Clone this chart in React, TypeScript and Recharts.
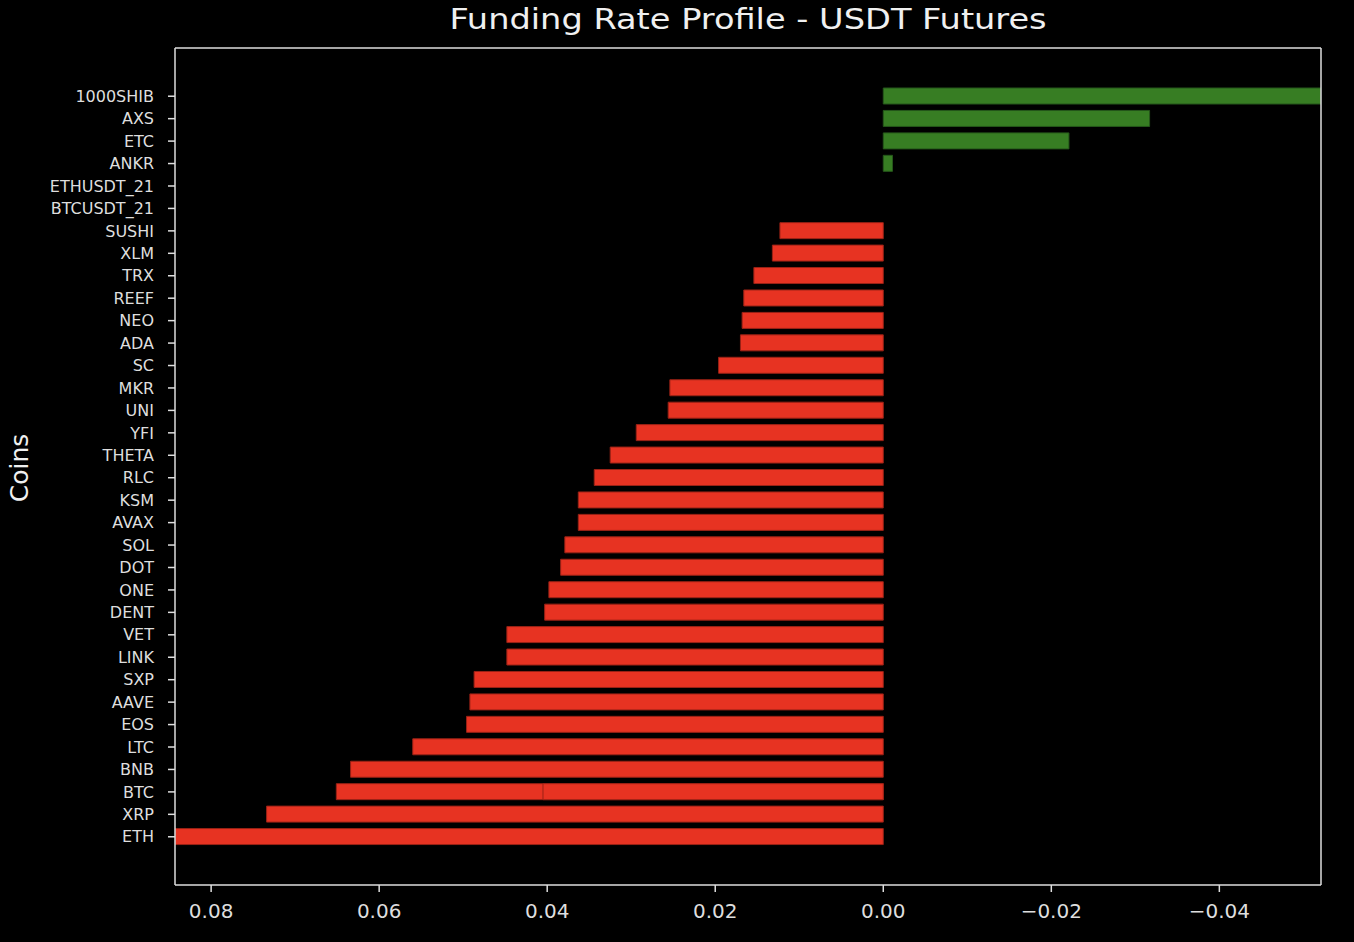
import React from 'react';
import { BarChart, Bar, XAxis, YAxis, Cell } from 'recharts';

const coins = [
  '1000SHIB', 'AXS', 'ETC', 'ANKR', 'ETHUSDT_21', 'BTCUSDT_21', 'SUSHI', 'XLM', 'TRX', 'REEF',
  'NEO', 'ADA', 'SC', 'MKR', 'UNI', 'YFI', 'THETA', 'RLC', 'KSM', 'AVAX',
  'SOL', 'DOT', 'ONE', 'DENT', 'VET', 'LINK', 'SXP', 'AAVE', 'EOS', 'LTC',
  'BNB', 'BTC', 'XRP', 'ETH',
];

const rates = [
  -0.0521, -0.0317, -0.0221, -0.0011, 0, 0, 0.0123, 0.0132, 0.0154, 0.0166,
  0.0168, 0.017, 0.0196, 0.0254, 0.0256, 0.0294, 0.0325, 0.0344, 0.0363, 0.0363,
  0.0379, 0.0384, 0.0398, 0.0403, 0.0448, 0.0448, 0.0487, 0.0492, 0.0496, 0.056,
  0.0634, 0.0651, 0.0734, 0.0843,
];

// second BTC row in the source data, drawn over the first one
const duplicateCoin = 'BTC';
const duplicateRate = 0.0405;

const xTicks = [0.08, 0.06, 0.04, 0.02, 0, -0.02, -0.04];

const data = coins.map((coin, i) => ({
  coin,
  rate: rates[i],
  dup: coin === duplicateCoin ? duplicateRate : null,
}));

const xMin = Math.min(...rates);
const xMax = Math.max(...rates);

const RED = '#e73322';
const RED_EDGE = '#9a2216';
const GREEN = '#377d23';
const GREEN_EDGE = '#25571a';
const FG = '#dedede';
const FONT = '"DejaVu Sans", sans-serif';

const fmt = (v: number) => (v < 0 ? '\u2212' + Math.abs(v).toFixed(2) : v.toFixed(2));

export default function App() {
  return (
    <div
      style={{
        position: 'absolute',
        left: 0,
        top: 0,
        width: 1354,
        height: 942,
        background: '#000',
        fontFamily: FONT,
        overflow: 'hidden',
      }}
    >
      <div
        style={{
          position: 'absolute',
          left: 748,
          top: 6,
          fontSize: 28,
          lineHeight: '28px',
          color: '#f0f0f0',
          whiteSpace: 'nowrap',
          transform: 'translateX(-50%) scaleX(1.2)',
        }}
      >
        Funding Rate Profile - USDT Futures
      </div>
      <div
        style={{
          position: 'absolute',
          left: 19,
          top: 468,
          fontSize: 25,
          lineHeight: '25px',
          color: '#f0f0f0',
          whiteSpace: 'nowrap',
          transform: 'translate(-50%, -50%) rotate(-90deg)',
        }}
      >
        Coins
      </div>
      <BarChart
        width={1354}
        height={942}
        data={data}
        layout="vertical"
        margin={{ top: 47, right: 32, bottom: 0, left: 0 }}
        barGap={-16}
      >
        <XAxis
          type="number"
          domain={[xMin, xMax]}
          reversed
          ticks={xTicks}
          tickFormatter={fmt}
          height={57}
          tickSize={7}
          tickMargin={12}
          stroke={FG}
          strokeWidth={1.5}
          tick={{ fill: FG, fontSize: 20, fontFamily: FONT }}
          allowDataOverflow
        />
        <XAxis
          xAxisId="top"
          orientation="top"
          type="number"
          domain={[xMin, xMax]}
          reversed
          height={1}
          tick={false}
          tickLine={false}
          stroke={FG}
          strokeWidth={1.5}
        />
        <YAxis
          type="category"
          dataKey="coin"
          width={175}
          interval={0}
          padding={{ top: 37, bottom: 37 }}
          tickSize={7}
          tickMargin={14}
          stroke={FG}
          strokeWidth={1.5}
          tick={{ fill: FG, fontSize: 16, fontFamily: FONT }}
        />
        <YAxis
          yAxisId="right"
          orientation="right"
          type="category"
          dataKey="coin"
          width={1}
          tick={false}
          tickLine={false}
          stroke={FG}
          strokeWidth={1.5}
        />
        <Bar dataKey="rate" barSize={16} strokeWidth={1} isAnimationActive={false}>
          {data.map((d, i) => (
            <Cell
              key={i}
              fill={d.rate < 0 ? GREEN : RED}
              stroke={d.rate < 0 ? GREEN_EDGE : RED_EDGE}
            />
          ))}
        </Bar>
        <Bar
          dataKey="dup"
          barSize={16}
          fill={RED}
          stroke={RED_EDGE}
          strokeWidth={1}
          isAnimationActive={false}
        />
      </BarChart>
    </div>
  );
}
